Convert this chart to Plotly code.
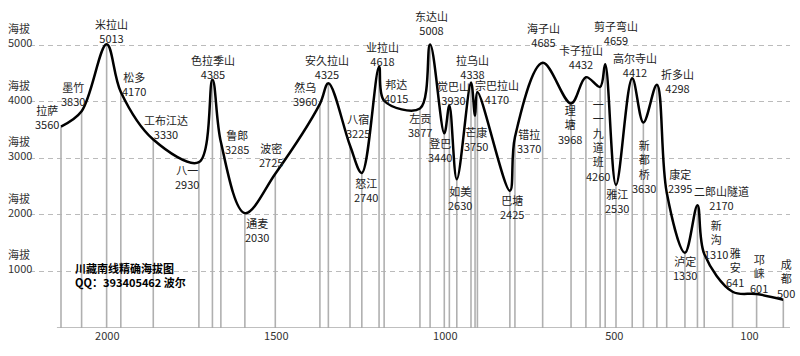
import plotly.graph_objects as go

# ---- data (distance to Chengdu in km, elevation in m) ----
places = ["拉萨", "墨竹", "米拉山", "松多", "工布江达", "八一", "色拉季山", "鲁郎", "通麦", "波密",
          "然乌", "安久拉山", "八宿", "怒江", "业拉山", "邦达", "左贡", "东达山", "登巴", "觉巴山",
          "如美", "拉乌山", "芒康", "宗巴拉山", "巴塘", "错拉", "海子山", "理塘", "卡子拉山", "一一九道班",
          "剪子弯山", "雅江", "高尔寺山", "新都桥", "折多山", "康定", "泸定", "二郎山隧道", "新沟", "雅安",
          "邛崃", "成都"]
elevation = [3560, 3830, 5013, 4170, 3330, 2930, 4385, 3285, 2030, 2725,
             3960, 4325, 3225, 2740, 4618, 4015, 3877, 5008, 3440, 3930,
             2630, 4338, 3750, 4170, 2425, 3370, 4685, 3968, 4432, 4260,
             4659, 2530, 4412, 3630, 4298, 2395, 1330, 2170, 1310, 641,
             601, 500]
distance = [2137, 2076, 2002, 1960, 1864, 1729, 1689, 1664, 1593, 1503,
            1371, 1346, 1282, 1247, 1196, 1181, 1075, 1045, 1003, 988,
            966, 924, 912, 905, 809, 794, 712, 628, 584, 542,
            527, 495, 447, 414, 374, 345, 291, 254, 234, 150,
            79, 0]
vertical_names = {"理塘", "一一九道班", "新都桥", "新沟", "雅安", "邛崃", "成都"}

x_tick_vals = [2000, 1500, 1000, 500, 100]
x_tick_text = ["2000", "1500", "1000", "500", "100"]
grid_levels = [1000, 2000, 3000, 4000, 5000]
grid_prefix = "海拔"
watermark = ["川藏南线精确海拔图", "QQ：393405462 波尔"]

# label offsets (pixels) relative to each point
label_dx = [-14, -9, 5, 13, 13, -12, 1, 16, 12, -4,
            -15, -1, 8, 4, 3, 12, 0, 1, -4, 4,
            3, 2, 1, 20, 2, 14, 1, -1, -5, -2,
            11, 1, 3, 1, 21, 13, 0, 24, 12, 2,
            2, 3]
label_dy = [10, 17, 13, 7.5, 13, -15, 13, 0, -17, 19,
            10, 16, 19.5, -17.5, 13, 10, -16.5, 22, -17, 13,
            -18.5, 15.5, -23, 0, -16, -4, 28, -21.5, 20.5, -53.5,
            31, -16.5, 13, -44, 3.5, 11, -15, 7, 14, 24,
            20.5, 21.5]

FONT = "Noto Sans CJK SC"

fig = go.Figure()

# vertical gray drop lines
vx, vy = [], []
for d, e in zip(distance, elevation):
    vx += [d, d, None]
    vy += [0, e, None]
fig.add_trace(go.Scatter(x=vx, y=vy, mode="lines",
                         line=dict(color="#b0b0b0", width=1.6),
                         hoverinfo="skip", showlegend=False))

# elevation profile
fig.add_trace(go.Scatter(x=distance, y=elevation, mode="lines",
                         line=dict(color="black", width=2.5, shape="spline", smoothing=1.0),
                         text=places, showlegend=False))

annotations = []
for name, e, d, dx, dy in zip(places, elevation, distance, label_dx, label_dy):
    if name in vertical_names:
        txt = "<br>".join(list(name)) + "<br>" + str(e)
    else:
        txt = name + "<br>" + str(e)
    annotations.append(dict(x=d, y=e, xref="x", yref="y", text=txt, showarrow=False,
                            xshift=dx, yshift=dy, xanchor="center", yanchor="middle",
                            align="center", font=dict(family=FONT, size=11, color="#222")))

for v in grid_levels:
    annotations.append(dict(x=-0.0316, xref="paper", y=v, yref="y",
                            text=grid_prefix + "<br>" + str(v), showarrow=False,
                            xanchor="left", yanchor="middle", align="left", yshift=10,
                            font=dict(family=FONT, size=11, color="#333")))

annotations.append(dict(x=0.0566, xref="paper", y=0.1656, yref="paper",
                        text="<b>" + "<br>".join(watermark) + "</b>", showarrow=False,
                        xanchor="left", yanchor="middle", align="left",
                        font=dict(family=FONT, size=11, color="black")))

fig.update_layout(
    width=800, height=356,
    margin=dict(l=30, r=10, t=5, b=28),
    paper_bgcolor="white", plot_bgcolor="white",
    annotations=annotations,
    shapes=[dict(type="line", xref="x", yref="y", x0=2149, x1=-20, y0=0, y1=0,
                 line=dict(color="#aaaaaa", width=1.5))],
    xaxis=dict(range=[2228.7, -19.8], tickvals=x_tick_vals, ticktext=x_tick_text,
               showgrid=False, zeroline=False, showline=False, ticks="",
               tickfont=dict(family=FONT, size=11, color="#333")),
    yaxis=dict(range=[0, 5707], tickvals=grid_levels, showticklabels=False,
               showgrid=True, gridcolor="#bbbbbb", griddash="5px,4px", gridwidth=1,
               zeroline=False, showline=False, ticks=""),
    showlegend=False,
)

fig.write_html("out.html",
               config={"displayModeBar": False},
               post_script="document.body.style.margin='0';document.body.style.padding='0';")
